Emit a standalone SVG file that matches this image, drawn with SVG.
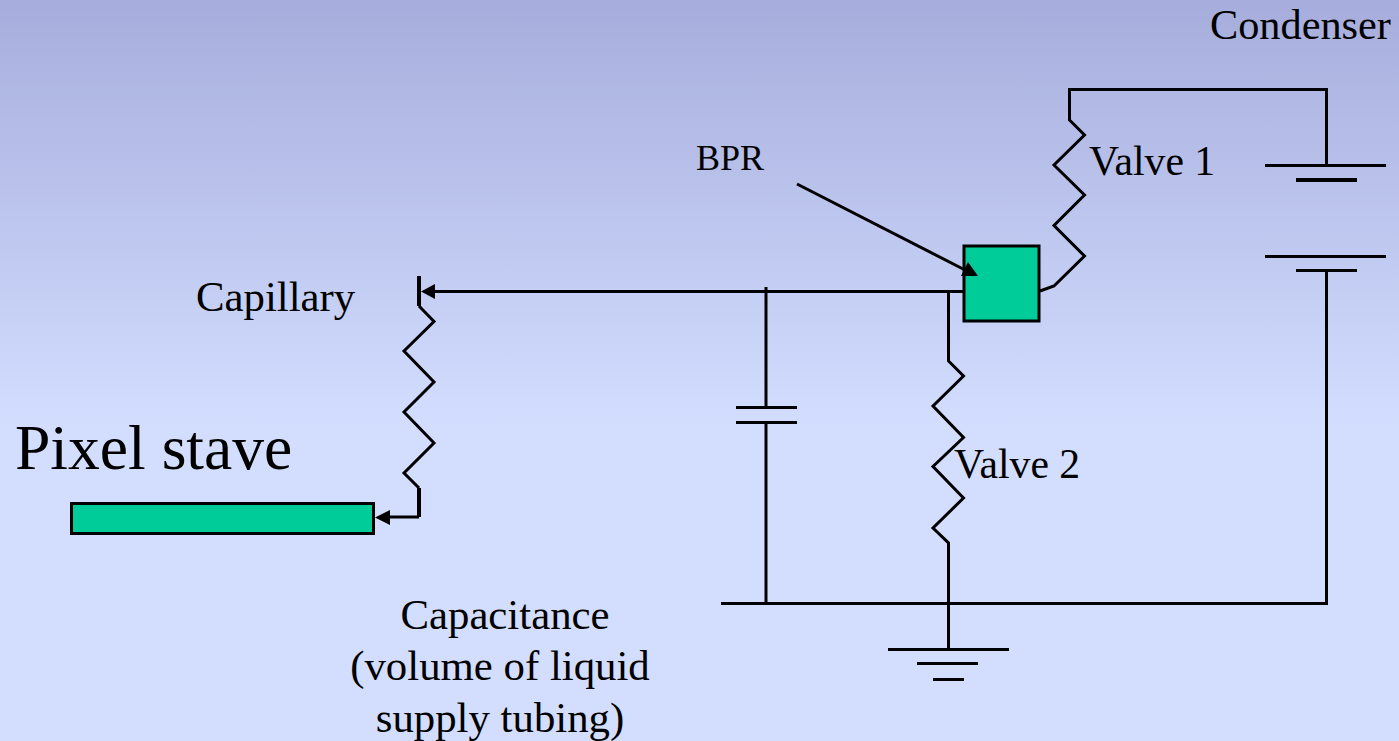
<svg xmlns="http://www.w3.org/2000/svg" width="1399" height="741" viewBox="0 0 1399 741">
<style>
.w{fill:none;stroke:#000;stroke-width:3;stroke-linejoin:miter}
.t{stroke-width:4}
.n{fill:#00CC99;stroke:#000;stroke-width:3}
text{font-family:"Liberation Serif","Times New Roman",serif;font-size:42.800px;fill:#000}
</style>
<defs>
<linearGradient id="bg" x1="0" y1="0" x2="0" y2="1">
<stop offset="0" stop-color="#A6ADDC"/>
<stop offset="0.58" stop-color="#D3DEFF"/>
<stop offset="1" stop-color="#D3DEFF"/>
</linearGradient>
</defs>
<rect id="background" width="1399" height="741" fill="url(#bg)"/>
<g id="bpr"><rect class="n" x="964" y="246" width="75" height="75"/></g>
<g id="stave"><rect class="n" x="71.500" y="503.500" width="302" height="30"/></g>
<g id="connectors">
<path class="w" d="M1040 291L1054 286L1084.500 256L1054 225.500L1084.500 195L1054 165L1084.500 135L1069.500 120V89.500H1326.500V165"/>
<path class="w" d="M1326.500 270V603.500H721"/>
<path class="w" d="M963 291.500H432"/>
<path class="w" d="M766 287V407M766 423V603"/>
<path class="w" d="M948.500 291.500V361L963.500 376L933 406L963.500 437.500L933 466.500L963.500 498L933 528L948.500 543V649"/>
<path class="w" d="M419 306L434 321.500L404 351L434 382L404 412L434 443L404 473L419 488"/>
<path class="w t" d="M419 276V306M419 488V517"/>
<path class="w" d="M419 517H388"/>
<path d="M375 517.500L390 510V525Z"/>
<path d="M421 291.500L435 284V299Z"/>
<path class="w" d="M797 184L967 271"/>
<path d="M961 276H978L968 262Z"/>
</g>
<g id="battery">
<path class="w" d="M1265 165.500H1386M1265 256.500H1386M1296 270.500H1357"/>
<path class="w t" d="M1296 180H1357"/>
</g>
<g id="capacitor"><path class="w" d="M736 407.500H797M736 422.500H797"/></g>
<g id="ground"><path class="w" d="M888 649.500H1009M917 663.500H978M933 679.500H964"/></g>
<g id="labels">
<text x="1210" y="39" style="font-size:42.300px">Condenser</text>
<text x="1089" y="175" style="font-size:41.700px">Valve 1</text>
<text x="696" y="170" style="font-size:36px">BPR</text>
<text x="196" y="311" style="font-size:42.800px">Capillary</text>
<text x="15" y="469" style="font-size:63.600px">Pixel stave</text>
<text x="954" y="478" style="font-size:41.700px">Valve 2</text>
<text x="505" y="629" text-anchor="middle">Capacitance</text>
<text x="500" y="680" text-anchor="middle">(volume of liquid</text>
<text x="500" y="732" text-anchor="middle">supply tubing)</text>
</g>
</svg>
